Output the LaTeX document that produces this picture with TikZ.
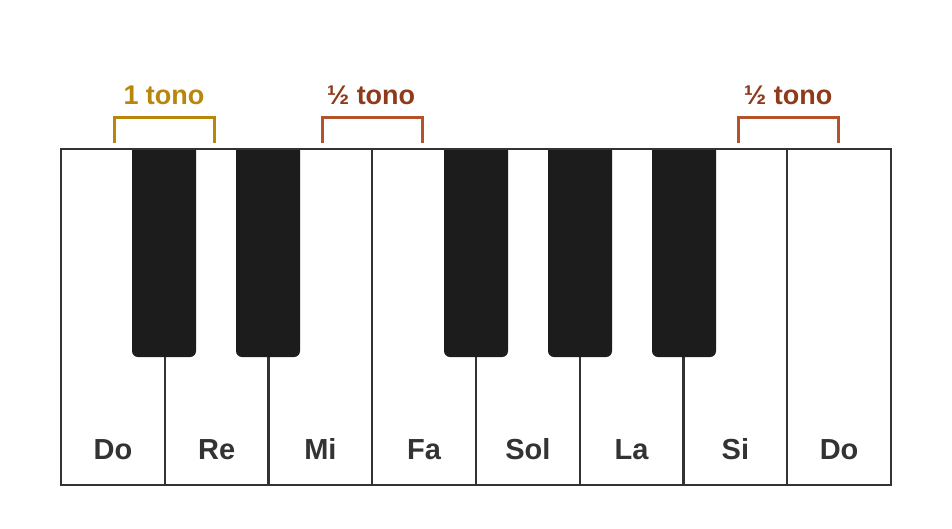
\documentclass[tikz,border=0pt]{standalone}
\usepackage{fontspec}
\setmainfont{Liberation Sans}
\usetikzlibrary{positioning}
\definecolor{keyline}{HTML}{333333}
\definecolor{keyblack}{HTML}{1C1C1C}
\definecolor{wholegold}{HTML}{B8860B}
\definecolor{halfline}{HTML}{B3532B}
\definecolor{halftext}{HTML}{8E3A1B}
\tikzstyle{whitekey} = [rectangle, minimum width=103.75pt, minimum height=336pt, inner sep=0pt, draw=keyline, line width=2pt, fill=white]
\tikzstyle{blackkey} = [fill=keyblack]
\tikzstyle{notelabel} = [inner sep=0pt, text=keyline, font=\fontsize{29}{32}\selectfont\bfseries]
\tikzstyle{steplabel} = [inner sep=0pt, font=\fontsize{27}{30}\selectfont\bfseries]
\tikzstyle{wholebracket} = [draw=wholegold, line width=3pt]
\tikzstyle{halfbracket} = [draw=halfline, line width=3pt]

\begin{document}
\begin{tikzpicture}[x=1pt, y=-1pt]
	\useasboundingbox (0,0) rectangle (952,528);

	\node (do) [whitekey] at (112.9,317) {};
	\node (re) [whitekey] at (216.6,317) {};
	\node (mi) [whitekey] at (320.4,317) {};
	\node (fa) [whitekey] at (424.1,317) {};
	\node (sol) [whitekey] at (527.9,317) {};
	\node (la) [whitekey] at (631.6,317) {};
	\node (si) [whitekey] at (735.4,317) {};
	\node (dohigh) [whitekey] at (839.1,317) {};

	\fill [blackkey] (132,149) [rounded corners=6pt] -- (132,357) -- (196,357) [sharp corners] -- (196,149) -- cycle;
	\fill [blackkey] (236,149) [rounded corners=6pt] -- (236,357) -- (300,357) [sharp corners] -- (300,149) -- cycle;
	\fill [blackkey] (444,149) [rounded corners=6pt] -- (444,357) -- (508,357) [sharp corners] -- (508,149) -- cycle;
	\fill [blackkey] (548,149) [rounded corners=6pt] -- (548,357) -- (612,357) [sharp corners] -- (612,149) -- cycle;
	\fill [blackkey] (652,149) [rounded corners=6pt] -- (652,357) -- (716,357) [sharp corners] -- (716,149) -- cycle;
	\draw [keyline, line width=2pt] (61,149) -- (891,149);

	\node (ldo) [notelabel, above=26pt of do.south] {Do};
	\node (lre) [notelabel, above=26pt of re.south] {Re};
	\node (lmi) [notelabel, above=26pt of mi.south] {Mi};
	\node (lfa) [notelabel, above=26pt of fa.south] {Fa};
	\node (lsol) [notelabel, above=26pt of sol.south] {Sol};
	\node (lla) [notelabel, above=26pt of la.south] {La};
	\node (lsi) [notelabel, above=26pt of si.south] {Si};
	\node (ldohigh) [notelabel, above=26pt of dohigh.south] {Do};

	\draw [wholebracket] (114,143) -- (114,117) -- (214,117) -- (214,143);
	\draw [halfbracket] (322,143) -- (322,117) -- (422,117) -- (422,143);
	\draw [halfbracket] (738,143) -- (738,117) -- (838,117) -- (838,143);

	\node (whole) [steplabel, text=wholegold] at (164,95) {1 tono};
	\node (halfa) [steplabel, text=halftext] at (371,95) {½ tono};
	\node (halfb) [steplabel, text=halftext] at (788,95) {½ tono};

	\end{tikzpicture}
\end{document}
